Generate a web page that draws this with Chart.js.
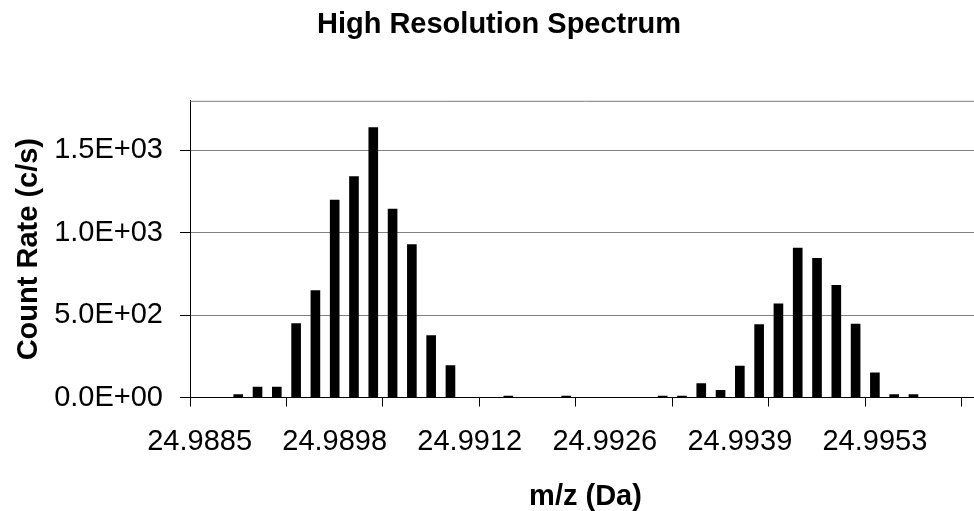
<!DOCTYPE html>
<html>
<head>
<meta charset="utf-8">
<script src="https://cdn.jsdelivr.net/npm/chart.js@4.4.1/dist/chart.umd.min.js"></script>
<style>
  html, body { margin: 0; padding: 0; background: #fff; overflow: hidden; }
  #wrap { width: 1000px; height: 511px; }
</style>
</head>
<body>
<div id="wrap"><canvas id="spectrum"></canvas></div>
<script>
// m/z categories (Da), one per bar slot
const mzLabels = [
  '24.9885', '24.9887', '24.9889', '24.9891', '24.9893', '24.9895', '24.9896',
  '24.9898', '24.9900', '24.9902', '24.9904', '24.9906', '24.9908', '24.9910',
  '24.9912', '24.9914', '24.9916', '24.9918', '24.9920', '24.9922', '24.9924',
  '24.9926', '24.9927', '24.9929', '24.9931', '24.9933', '24.9935', '24.9937',
  '24.9939', '24.9941', '24.9943', '24.9945', '24.9947', '24.9949', '24.9951',
  '24.9953', '24.9955', '24.9957', '24.9959', '24.9960', '24.9962'
];

// count rate (c/s)
const countRate = [
  0, 0, 20, 65, 65, 450, 651,
  1200, 1342, 1640, 1145, 930, 377, 195,
  0, 0, 10, 0, 0, 10, 0,
  0, 0, 0, 10, 10, 87, 45,
  193, 444, 570, 908, 847, 683, 448,
  152, 20, 20, 0, 0, 0
];

const yTicks = [0, 500, 1000, 1500];

const FONT = "'Liberation Sans', Arial, sans-serif";

// 1500 -> "1.5E+03"
function sciLabel(v) {
  const parts = Number(v).toExponential(1).split('e');
  const exp = parseInt(parts[1], 10);
  const sign = exp < 0 ? '-' : '+';
  return parts[0] + 'E' + sign + String(Math.abs(exp)).padStart(2, '0');
}

// top edge of the plot box
const plotFrame = {
  id: 'plotFrame',
  afterDraw(chart) {
    const { ctx, chartArea } = chart;
    ctx.save();
    ctx.strokeStyle = '#7a7a7a';
    ctx.lineWidth = 1;
    ctx.beginPath();
    ctx.moveTo(chartArea.left, chartArea.top + 0.5);
    ctx.lineTo(chartArea.right, chartArea.top + 0.5);
    ctx.stroke();
    ctx.restore();
  }
};

const ctx = document.getElementById('spectrum').getContext('2d');
new Chart(ctx, {
  type: 'bar',
  data: {
    labels: mzLabels,
    datasets: [{
      data: countRate,
      backgroundColor: '#000',
      borderWidth: 0,
      barPercentage: 0.5,
      categoryPercentage: 1.0
    }]
  },
  options: {
    responsive: true,
    maintainAspectRatio: false,
    animation: false,
    layout: { padding: { left: 17, right: 19, top: 0, bottom: 0 } },
    plugins: {
      legend: { display: false },
      tooltip: { enabled: false },
      title: {
        display: true,
        text: 'High Resolution Spectrum',
        color: '#000',
        font: { family: FONT, size: 29, weight: 'bold', lineHeight: 1.2 },
        padding: { top: 8, bottom: 58 }
      }
    },
    scales: {
      x: {
        offset: true,
        grid: {
          display: true,
          offset: true,
          drawOnChartArea: false,
          tickLength: 9,
          color: (c) => (c.index % 5 === 0 ? '#000' : 'rgba(0,0,0,0)')
        },
        border: { display: true, color: '#000', width: 1 },
        ticks: {
          autoSkip: false,
          maxRotation: 0,
          minRotation: 0,
          padding: 18,
          color: '#000',
          font: { family: FONT, size: 29 },
          callback: (v, i) => (i % 7 === 0 ? mzLabels[i] : '')
        },
        title: {
          display: true,
          text: 'm/z (Da)',
          color: '#000',
          font: { family: FONT, size: 29, weight: 'bold', lineHeight: 1.0 },
          padding: { top: 0, bottom: 0 }
        },
        afterFit: (scale) => { scale.height = 113.5; }
      },
      y: {
        min: 0,
        max: 1800,
        afterBuildTicks: (scale) => { scale.ticks = yTicks.map((v) => ({ value: v })); },
        grid: {
          color: '#808080',
          lineWidth: 1,
          tickLength: 10,
          tickColor: '#000'
        },
        border: { display: true, color: '#000', width: 1 },
        ticks: {
          padding: 17,
          color: '#000',
          font: { family: FONT, size: 29 },
          callback: (v) => sciLabel(v)
        },
        title: {
          display: true,
          text: 'Count Rate (c/s)',
          color: '#000',
          font: { family: FONT, size: 29, weight: 'bold', lineHeight: 0.8 },
          padding: { top: 0, bottom: 0 }
        },
        afterFit: (scale) => { scale.width = 173; }
      }
    }
  },
  plugins: [plotFrame]
});
</script>
</body>
</html>
